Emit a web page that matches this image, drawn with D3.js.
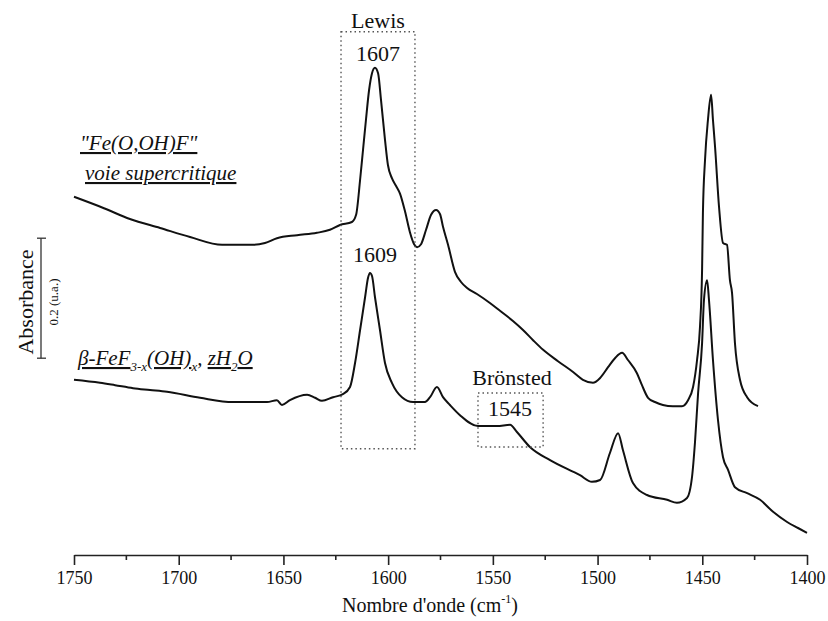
<!DOCTYPE html>
<html><head><meta charset="utf-8">
<script src="https://cdn.jsdelivr.net/npm/d3@7/dist/d3.min.js"></script>
<style>
html,body{margin:0;padding:0;background:#fff;}
svg{display:block;font-family:"Liberation Serif","Times New Roman",serif;}
</style></head>
<body><svg id="c" width="828" height="621"></svg>
<script>
// wavenumbers (cm-1) and absorbance for the supercritical "Fe(O,OH)F" spectrum
const topWave = [1750,1735.7,1723.3,1708.9,1694.6,1679.3,1664.5,1658.8,1653.1,1643.5,1634.0,1627.8,1623.0,1617.3,1615.3,1613.4,1612.0,1610.6,1609.1,1607.7,1606.3,1604.8,1603.4,1601.5,1600.1,1598.2,1596.2,1594.3,1591.9,1589.6,1587.6,1586.2,1584.3,1581.9,1579.5,1577.1,1575.2,1573.8,1571.4,1568.1,1565.2,1562.3,1557.6,1551.4,1546.6,1540.4,1535.6,1530.8,1526.0,1518.9,1511.7,1507.0,1502.2,1498.8,1495.0,1491.7,1488.3,1485.5,1481.2,1478.8,1475.9,1472.6,1468.8,1464.0,1459.7,1456.8,1454.4,1452.5,1451.1,1450.1,1449.7,1448.7,1447.3,1445.8,1444.9,1443.9,1442.0,1440.1,1438.2,1436.8,1435.8,1434.4,1432.0,1428.6,1423.4];
const topAbs = [0.597,0.578,0.560,0.545,0.530,0.517,0.517,0.520,0.528,0.533,0.537,0.542,0.550,0.555,0.567,0.625,0.675,0.725,0.775,0.803,0.812,0.803,0.758,0.692,0.650,0.628,0.615,0.602,0.572,0.538,0.518,0.513,0.518,0.542,0.567,0.575,0.568,0.547,0.517,0.472,0.455,0.445,0.435,0.420,0.407,0.390,0.375,0.358,0.342,0.323,0.305,0.292,0.287,0.295,0.313,0.328,0.337,0.325,0.303,0.283,0.262,0.255,0.250,0.248,0.248,0.258,0.280,0.325,0.380,0.475,0.570,0.658,0.725,0.767,0.725,0.680,0.580,0.520,0.517,0.458,0.437,0.353,0.292,0.263,0.248];

// wavenumbers (cm-1) and absorbance for beta-FeF3-x(OH)x, zH2O
const botWave = [1750,1737.6,1730.4,1721.8,1713.7,1705.6,1689.8,1674.1,1657.8,1653.1,1650.7,1646.9,1638.7,1634.9,1631.6,1626.3,1621.6,1618.2,1615.8,1613.4,1611.0,1609.6,1608.7,1607.7,1606.3,1603.9,1601.5,1598.2,1593.4,1588.1,1582.4,1580.0,1576.7,1573.8,1570.5,1565.7,1557.1,1548.0,1541.8,1538.5,1532.3,1522.7,1508.4,1502.7,1498.8,1494.1,1490.2,1487.9,1483.1,1476.4,1466.8,1462.1,1457.3,1454.9,1453.5,1452.0,1450.1,1449.2,1447.7,1446.8,1444.9,1442.5,1440.1,1437.7,1434.4,1428.6,1422.4,1416.2,1409.5,1404.3,1400];
const botAbs = [0.292,0.287,0.283,0.278,0.275,0.272,0.262,0.255,0.255,0.258,0.250,0.258,0.267,0.262,0.257,0.263,0.268,0.280,0.320,0.375,0.430,0.462,0.470,0.465,0.430,0.375,0.320,0.287,0.263,0.255,0.255,0.263,0.280,0.263,0.250,0.233,0.215,0.215,0.217,0.205,0.180,0.158,0.133,0.122,0.125,0.170,0.203,0.175,0.120,0.100,0.092,0.087,0.095,0.130,0.187,0.270,0.353,0.425,0.458,0.425,0.325,0.225,0.163,0.142,0.113,0.103,0.092,0.072,0.055,0.045,0.037];

const majorTicks = [1750,1700,1650,1600,1550,1500,1450,1400];
const minorTicks = [1725,1675,1625,1575,1525,1475,1425];
const xLabel = "Nombre d'onde (cm";
const xLabelSup = "-1";
const yLabel = "Absorbance";
const scaleLabel = "0.2 (u.a.)";
const scaleBar = [0.328, 0.528]; // 0.2 absorbance units
const lewisBox = {w0:1622.5, w1:1587.2, a0:0.177, a1:0.872, title:"Lewis", topPeak:"1607", botPeak:"1609"};
const bronstedBox = {w0:1557.1, w1:1526.0, a0:0.180, a1:0.270, title:"Brönsted", peak:"1545"};

const svg = d3.select("#c");
const x = d3.scaleLinear().domain([1750,1400]).range([74,807]);
const y = d3.scaleLinear().domain([0,0.9]).range([555,15]);

// spectra
const line = d3.line().x(d=>x(d[0])).y(d=>y(d[1])).curve(d3.curveMonotoneX);
const topData = topWave.map((w,i)=>[w,topAbs[i]]);
const botData = botWave.map((w,i)=>[w,botAbs[i]]);
[topData,botData].forEach(d=>{
  svg.append("path").datum(d).attr("d",line)
    .attr("fill","none").attr("stroke","#111").attr("stroke-width",2).attr("stroke-linejoin","round");
});

// axis
const axisG = svg.append("g").attr("transform","translate(0,555)");
axisG.call(d3.axisBottom(x).tickValues(majorTicks).tickSize(10).tickSizeOuter(0).tickFormat(d3.format("d")));
axisG.select(".domain").attr("stroke","#222").attr("stroke-width",1.6);
axisG.selectAll(".tick line").attr("stroke","#222").attr("stroke-width",1.6);
axisG.selectAll(".tick text").attr("font-family","Liberation Serif").attr("font-size",18).attr("fill","#111").attr("dy","0.95em").attr("y",12);
const minorG = svg.append("g").attr("transform","translate(0,555)");
minorG.selectAll("line").data(minorTicks).join("line")
  .attr("x1",d=>x(d)).attr("x2",d=>x(d)).attr("y1",0).attr("y2",5)
  .attr("stroke","#222").attr("stroke-width",1.6);

const xt = svg.append("text").attr("x",430).attr("y",612).attr("text-anchor","middle")
  .attr("font-size",20).attr("fill","#111");
xt.append("tspan").text(xLabel);
xt.append("tspan").attr("font-size",12).attr("dy",-9).text(xLabelSup);
xt.append("tspan").attr("dy",9).text(")");

// scale bar
const sb = svg.append("g").attr("stroke","#333").attr("stroke-width",1.3);
sb.append("line").attr("x1",41).attr("x2",41).attr("y1",y(scaleBar[0])).attr("y2",y(scaleBar[1]));
sb.append("line").attr("x1",37).attr("x2",46).attr("y1",y(scaleBar[0])).attr("y2",y(scaleBar[0]));
sb.append("line").attr("x1",37).attr("x2",46).attr("y1",y(scaleBar[1])).attr("y2",y(scaleBar[1]));
svg.append("text").attr("transform","translate(33,302) rotate(-90)").attr("text-anchor","middle")
  .attr("font-size",22).attr("fill","#111").text(yLabel);
svg.append("text").attr("transform","translate(58,302) rotate(-90)").attr("text-anchor","middle")
  .attr("font-size",13).attr("fill","#111").text(scaleLabel);

// dotted boxes
function box(b){
  svg.append("rect").attr("x",x(b.w0)).attr("y",y(b.a1))
    .attr("width",x(b.w1)-x(b.w0)).attr("height",y(b.a0)-y(b.a1))
    .attr("fill","none").attr("stroke","#555").attr("stroke-width",1.4).attr("stroke-dasharray","1.5,3");
}
box(lewisBox); box(bronstedBox);
const lab = (tx,ty,t,fs)=>svg.append("text").attr("x",tx).attr("y",ty).attr("text-anchor","middle")
  .attr("font-size",fs).attr("fill","#111").text(t);
lab(378,28,lewisBox.title,22);
lab(378,61,lewisBox.topPeak,22);
lab(375,262,lewisBox.botPeak,22);
lab(512,385,bronstedBox.title,22);
lab(510,416,bronstedBox.peak,22);

// sample labels
const s1 = svg.append("text").attr("x",80).attr("y",150).attr("font-size",21).attr("font-style","italic").attr("fill","#111")
  .style("text-decoration","underline").text("\"Fe(O,OH)F\"");
const s2 = svg.append("text").attr("x",85).attr("y",180).attr("font-size",21).attr("font-style","italic").attr("fill","#111")
  .style("text-decoration","underline").text("voie supercritique");
const s3 = svg.append("text").attr("x",78).attr("y",365).attr("font-size",21).attr("font-style","italic").attr("fill","#111");
const parts = [["β-FeF",0],["3-x",1],["(OH)",0],["x",1],[", ",0],["zH",0],["2",1],["O",0]];
parts.forEach(p=>{
  const t = s3.append("tspan").text(p[0]);
  if(p[1]){ t.attr("font-size",13).attr("dy",6); }
  else { t.style("text-decoration", p[0]===", " ? "none" : "underline"); }
});
// reset baseline after subscripts
s3.selectAll("tspan").each(function(d,i){
  const p = parts[i];
  const prev = i>0 ? parts[i-1] : null;
  if(!p[1] && prev && prev[1]) d3.select(this).attr("dy",-6);
});
</script></body></html>
